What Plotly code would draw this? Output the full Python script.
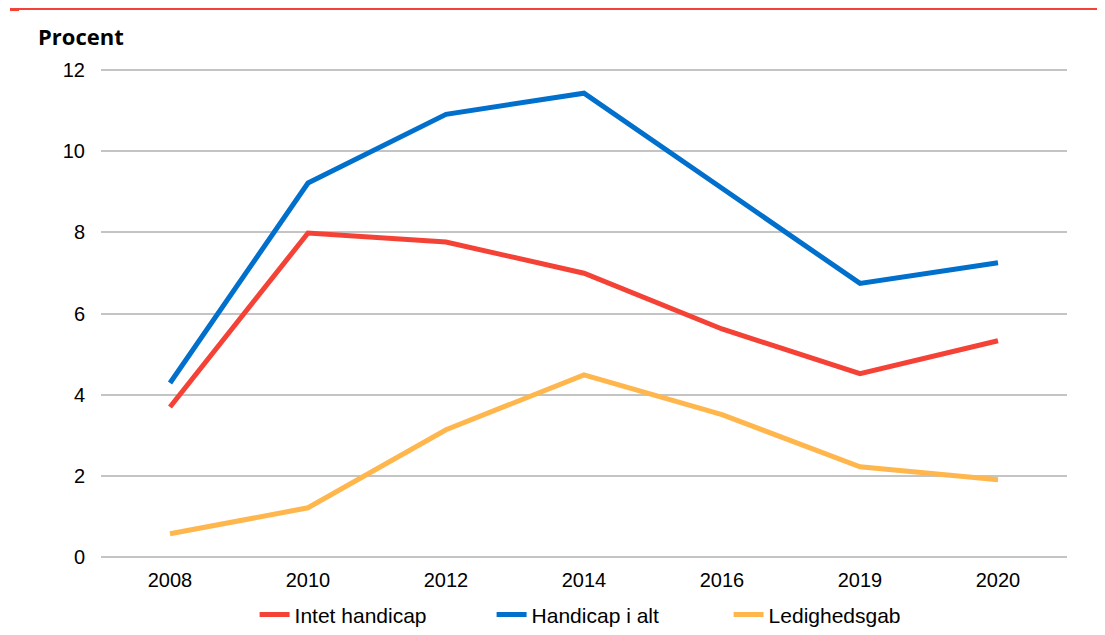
import plotly.graph_objects as go

# Data
years = ["2008", "2010", "2012", "2014", "2016", "2019", "2020"]
intet_handicap = [3.70, 7.98, 7.76, 6.99, 5.62, 4.52, 5.33]
handicap_i_alt = [4.29, 9.21, 10.90, 11.42, 9.08, 6.74, 7.25]
ledighedsgab = [0.58, 1.22, 3.14, 4.49, 3.51, 2.23, 1.91]

y_ticks = [0, 2, 4, 6, 8, 10, 12]

series = [
    ("Intet handicap", intet_handicap, "#F44336"),
    ("Handicap i alt", handicap_i_alt, "#0070CC"),
    ("Ledighedsgab", ledighedsgab, "#FFB74D"),
]

fig = go.Figure()
for name, vals, color in series:
    fig.add_trace(go.Scatter(
        x=years, y=vals, mode="lines", name=name,
        line=dict(color=color, width=5),
    ))

# page body has an 8px margin, so the figure is offset by it
fig.update_layout(
    width=1089, height=627,
    margin=dict(l=93, r=30, t=60, b=76, autoexpand=False),
    paper_bgcolor="white", plot_bgcolor="white",
    font=dict(family="Liberation Sans, Arial, sans-serif", size=20, color="#000000"),
    showlegend=True,
    legend=dict(
        orientation="h", x=0.159, xanchor="left",
        y=-0.114, yanchor="middle",
        font=dict(size=21), entrywidth=192, entrywidthmode="pixels",
        tracegroupgap=0,
    ),
    xaxis=dict(
        type="category", range=[-0.5, 6.5], showgrid=False, zeroline=False,
        showline=False, ticks="outside", ticklen=3, tickcolor="white",
    ),
    yaxis=dict(
        # small padding so the 0 and 12 gridlines are still drawn
        range=[-0.04, 12.04], tickvals=y_ticks, showgrid=True, gridcolor="#C4C4C4",
        gridwidth=2, zeroline=False, showline=False,
        ticks="outside", ticklen=11, tickcolor="white",
    ),
    annotations=[dict(
        text="<b>Procent</b>", xref="paper", yref="paper",
        x=-0.067, y=1.065, xanchor="left", yanchor="middle", showarrow=False,
        font=dict(family="Open Sans, Liberation Sans, sans-serif", size=22),
    )],
    shapes=[
        dict(type="line", xref="paper", yref="paper", x0=-0.0942, x1=1.034,
             y0=1.121, y1=1.121, line=dict(color="#F44336", width=3)),
        dict(type="rect", xref="paper", yref="paper", x0=-0.0942, x1=-0.0849,
             y0=1.116, y1=1.1248, line=dict(width=0), fillcolor="#F44336"),
    ],
)

fig.write_html("out.html")
